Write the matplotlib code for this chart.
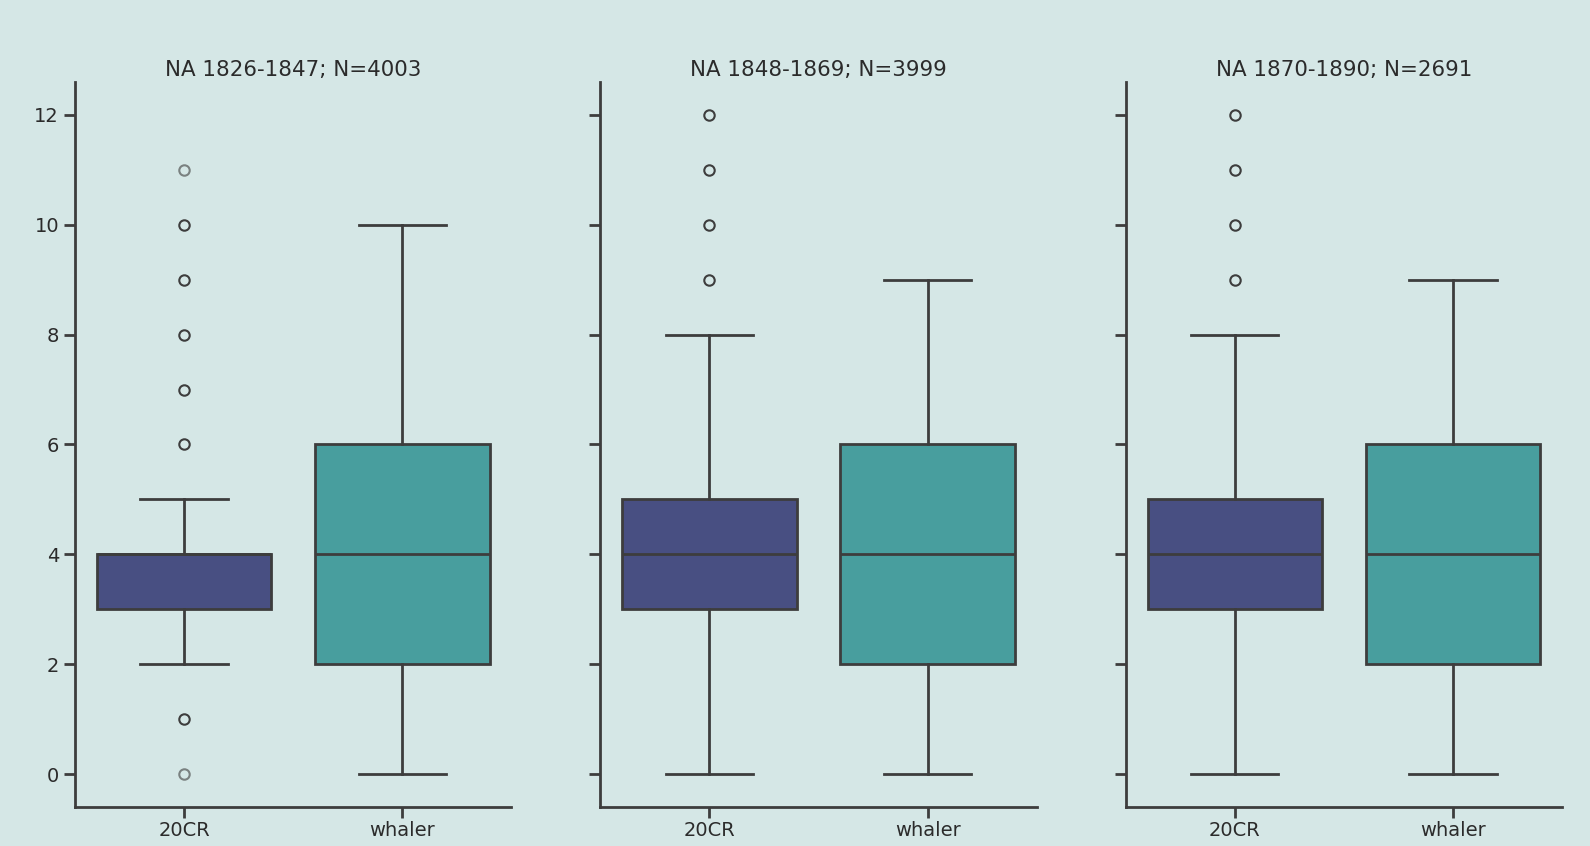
import matplotlib.pyplot as plt
import numpy as np

# summary stats per period: [20CR, whaler]
titles = ["NA 1826-1847; N=4003", "NA 1848-1869; N=3999", "NA 1870-1890; N=2691"]
sources = ["20CR", "whaler"]
q1 = [[3, 2], [3, 2], [3, 2]]
med = [[4, 4], [4, 4], [4, 4]]
q3 = [[4, 6], [5, 6], [5, 6]]
whislo = [[2, 0], [0, 0], [0, 0]]
whishi = [[5, 10], [8, 9], [8, 9]]
fliers = [[[0, 1, 6, 7, 8, 9, 10, 11], []],
          [[9, 10, 11, 12], []],
          [[9, 10, 11, 12], []]]
# rarely hit values show fainter rings (single point, no overplotting)
rare = [[0, 11], [], []]

bg = "#d5e7e6"
colors = ["#484f82", "#489e9e"]
line = "#3d3d3d"
txt = "#2b2b2b"

plt.rcParams['font.family'] = ['DejaVu Sans']
fig, axes = plt.subplots(1, 3, figsize=(15.9, 8.46), dpi=100, sharey=True)
fig.patch.set_facecolor(bg)
fig.subplots_adjust(left=0.0472, right=0.9824, top=0.9031, bottom=0.0461, wspace=0.204)

for k, ax in enumerate(axes):
    ax.set_facecolor(bg)
    stats = []
    for j, s in enumerate(sources):
        stats.append(dict(label=s, q1=q1[k][j], med=med[k][j], q3=q3[k][j],
                          whislo=whislo[k][j], whishi=whishi[k][j], fliers=[]))
    bp = ax.bxp(stats, positions=[0, 1], widths=0.8, patch_artist=True,
                showfliers=False,
                boxprops=dict(linewidth=2, edgecolor=line),
                medianprops=dict(color=line, linewidth=2),
                whiskerprops=dict(color=line, linewidth=2),
                capprops=dict(color=line, linewidth=2),
                capwidths=0.4)
    for patch, c in zip(bp['boxes'], colors):
        patch.set_facecolor(c)
    for j in range(2):
        for v in fliers[k][j]:
            a = 0.6 if v in rare[k] else 1.0
            ax.plot(j, v, marker='o', ms=7.5, mfc='none', mec=line, mew=1.5,
                    alpha=a, linestyle='none')
    ax.set_xlim(-0.5, 1.5)
    ax.set_ylim(-0.6, 12.6)
    ax.set_yticks(np.arange(0, 13, 2))
    ax.set_xticks([0, 1])
    ax.set_xticklabels(sources)
    ax.set_title(titles[k], fontsize=15.4, color=txt, pad=4.5)
    for sp in ['top', 'right']:
        ax.spines[sp].set_visible(False)
    for sp in ['left', 'bottom']:
        ax.spines[sp].set_linewidth(2)
        ax.spines[sp].set_color(line)
    ax.tick_params(length=8, width=2, color=line, labelsize=14, labelcolor=txt)
    ax.tick_params(axis='x', pad=1.8)

fig.savefig("out.png", dpi=100, facecolor=bg)
